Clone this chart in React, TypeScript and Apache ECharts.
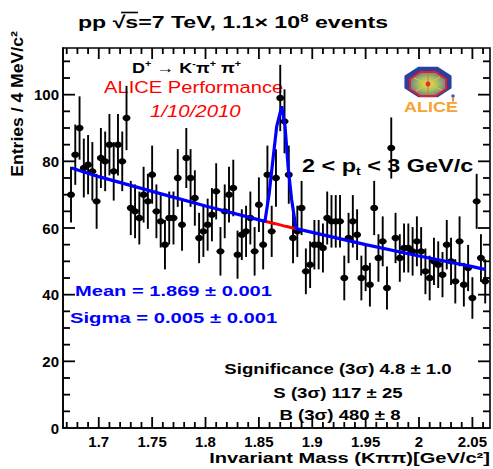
import React, { useEffect, useRef } from "react";
import * as echarts from "echarts";

const FONT = '"Liberation Sans", Arial, Helvetica, sans-serif';

// Histogram: entries per 4 MeV/c^2 bin, first bin centred at 1.674 GeV/c^2
const FIRST_BIN = 1.674;
const BIN_WIDTH = 0.004;
const counts = [
  70, 82, 90, 78, 79, 77, 68, 81, 80, 85,
  77, 85, 80, 93, 66, 65, 63, 70, 68, 76,
  65, 62, 55, 63, 63, 75, 61, 81, 75, 69,
  57, 59, 61, 64, 71, 53, 65, 70, 72, 52,
  58, 59, 63, 53, 67, 55, 76, 59, 75, 99,
  92, 76, 57, 59, 66, 47, 49, 55, 55, 54,
  63, 62, 62, 62, 45, 57, 62, 58, 45, 48,
  43, 66, 51, 56, 42, 84, 57, 51, 54, 54,
  53, 56, 53, 47, 45, 50, 49, 46, 55, 50,
  44, 56, 43, 48, 39, 68, 51, 44,
];
const masses = counts.map((_, i) => +(FIRST_BIN + BIN_WIDTH * i).toFixed(4));
const errors = counts.map((c) => Math.sqrt(c));

// Fit (signal + background)
const fitMass = [1.6745, 1.7, 1.75, 1.8, 1.8557, 1.8597, 1.8635, 1.8667, 1.8714, 1.8745, 1.8776, 1.8807, 1.8848, 1.9, 1.95, 2.0, 2.05, 2.0625];
const fitValue = [78.0, 75.4, 71.0, 66.6, 62.0, 70.5, 81.5, 90.5, 96.5, 90.5, 77.5, 68.5, 59.8, 58.7, 55.0, 51.6, 48.4, 47.5];
// Background under the peak (3 sigma window)
const bgMass = [1.8557, 1.8654, 1.8751, 1.8848];
const bgValue = [62.0, 61.3, 60.5, 59.8];

const xLabelValues = [1.7, 1.75, 1.8, 1.85, 1.9, 1.95, 2, 2.05];
const xTickHundredths = [167, 206]; // ticks every 0.01, major every 0.05
const yTickRange = [5, 110]; // ticks every 5, major every 20

const X_MIN = 1.6665;
const X_MAX = 2.0665;
const Y_MIN = 0;
const Y_MAX = 114;

function octagon(cx: number, cy: number, rx: number, ry: number) {
  const pts: number[][] = [];
  for (let i = 0; i < 8; i++) {
    const a = Math.PI / 8 + (i * Math.PI) / 4;
    pts.push([cx + rx * Math.cos(a), cy + ry * Math.sin(a)]);
  }
  return pts;
}

export default function App() {
  const ref = useRef<HTMLDivElement>(null);
  useEffect(() => {
    if (!ref.current) return;
    const chart = echarts.init(ref.current, null, { renderer: "svg" });

    // axis decoration items: [x value, y value, kind]
    // kind 0: x major tick + label, 1: x minor tick, 2: y major tick, 3: y minor tick
    const axisData: number[][] = [];
    for (let i = xTickHundredths[0]; i <= xTickHundredths[1]; i++) {
      const v = i / 100;
      const isLabel = xLabelValues.some((l) => Math.abs(l - v) < 1e-9);
      axisData.push([v, 50, isLabel ? 0 : 1]);
    }
    for (let v = yTickRange[0]; v <= yTickRange[1]; v += 5) axisData.push([1.8, v, v % 20 === 0 ? 2 : 3]);

    const pointData = counts.map((c, i) => [masses[i], c, errors[i]]);
    const bold = { fontFamily: FONT, fontWeight: "bold" as const };
    const tick = (x1: number, y1: number, x2: number, y2: number) => ({
      type: "line",
      shape: { x1, y1, x2, y2 },
      style: { stroke: "#000", lineWidth: 1.8 },
    });

    const option: any = {
      animation: false,
      grid: { left: 63, right: 3, top: 48, bottom: 41, show: true, borderColor: "#000", borderWidth: 1.6 },
      xAxis: {
        type: "value",
        min: X_MIN,
        max: X_MAX,
        axisLine: { show: true, lineStyle: { color: "#000", width: 1.6 } },
        splitLine: { show: false },
        axisTick: { show: false },
        axisLabel: { show: false },
      },
      yAxis: {
        type: "value",
        min: Y_MIN,
        max: Y_MAX,
        interval: 20,
        axisLine: { show: true, lineStyle: { color: "#000", width: 1.6 } },
        splitLine: { show: false },
        axisTick: { show: false },
        axisLabel: { showMaxLabel: false, color: "#000", fontSize: 15, margin: 4, ...bold },
      },
      series: [
        {
          type: "custom",
          name: "data",
          z: 4,
          encode: { x: 0, y: 1 },
          data: pointData,
          renderItem: (_p: any, api: any) => {
            const m = api.value(0);
            const c = api.value(1);
            const e = api.value(2);
            const p = api.coord([m, c]);
            const lo = api.coord([m, c - e]);
            const hi = api.coord([m, c + e]);
            return {
              type: "group",
              children: [
                { type: "line", shape: { x1: p[0], y1: lo[1], x2: p[0], y2: hi[1] }, style: { stroke: "#000", lineWidth: 1.9 } },
                { type: "ellipse", shape: { cx: p[0], cy: p[1], rx: 4, ry: 3.2 }, style: { fill: "#000" } },
              ],
            };
          },
        },
        {
          type: "line",
          name: "background",
          z: 5,
          data: bgMass.map((m, i) => [m, bgValue[i]]),
          showSymbol: false,
          symbol: "none",
          lineStyle: { color: "#ff0000", width: 3 },
        },
        {
          type: "line",
          name: "fit",
          z: 6,
          data: fitMass.map((m, i) => [m, fitValue[i]]),
          showSymbol: false,
          symbol: "none",
          lineStyle: { color: "#0000ff", width: 3.2 },
        },
        {
          type: "custom",
          name: "axisdecor",
          z: 4,
          encode: { x: 0, y: 1 },
          data: axisData,
          renderItem: (_p: any, api: any) => {
            const xv = api.value(0);
            const yv = api.value(1);
            const kind = api.value(2);
            if (kind === 0 || kind === 1) {
              const b = api.coord([xv, Y_MIN]);
              const t = api.coord([xv, Y_MAX]);
              const len = kind === 0 ? 11 : 6;
              const children: any[] = [tick(b[0], b[1], b[0], b[1] - len), tick(t[0], t[1], t[0], t[1] + len)];
              if (kind === 0) {
                children.push({
                  type: "text",
                  x: b[0],
                  y: b[1] + 6,
                  style: { text: String(+xv.toFixed(2)), fill: "#000", fontSize: 15, ...bold, align: "center", verticalAlign: "top" },
                });
              }
              return { type: "group", children };
            }
            const l = api.coord([X_MIN, yv]);
            const r = api.coord([X_MAX, yv]);
            const len = kind === 2 ? 12 : 7;
            return { type: "group", children: [tick(l[0], l[1], l[0] + len, l[1]), tick(r[0], r[1], r[0] - len, r[1])] };
          },
        },
      ],
      graphic: [
        {
          type: "text",
          x: 78,
          y: 22,
          scaleX: 1.36,
          style: {
            text: "pp √s=7 TeV, 1.1× 10{sup|8} events",
            fill: "#000",
            fontSize: 17,
            ...bold,
            verticalAlign: "middle",
            rich: { sup: { fontSize: 11, fontFamily: FONT, fontWeight: "bold", padding: [0, 0, 8, 0] } },
          },
        },
        { type: "line", shape: { x1: 121, y1: 12.5, x2: 138, y2: 12.5 }, style: { stroke: "#000", lineWidth: 1.6 } },
        {
          type: "text",
          x: 18,
          y: 104,
          rotation: Math.PI / 2,
          scaleX: 1.1,
          style: { text: "Entries / 4 MeV/c²", fill: "#000", fontSize: 16, ...bold, align: "center", verticalAlign: "middle" },
        },
        {
          type: "text",
          x: 490,
          y: 458,
          scaleX: 1.34,
          style: { text: "Invariant Mass (Kππ)[GeV/c²]", fill: "#000", fontSize: 15, ...bold, align: "right", verticalAlign: "middle" },
        },
        {
          type: "text",
          x: 132,
          y: 68,
          scaleX: 1.2,
          style: {
            text: "D{sup|+} → K{sup|-}π{sup|+} π{sup|+}",
            fill: "#000",
            fontSize: 15,
            ...bold,
            verticalAlign: "middle",
            rich: { sup: { fontSize: 9, fontFamily: FONT, fontWeight: "bold", padding: [0, 0, 8, 0] } },
          },
        },
        {
          type: "text",
          x: 104,
          y: 88,
          scaleX: 1.26,
          style: { text: "ALICE Performance", fill: "#ff0000", fontSize: 16, fontFamily: FONT, verticalAlign: "middle" },
        },
        {
          type: "text",
          x: 150,
          y: 111,
          scaleX: 1.2,
          style: { text: "1/10/2010", fill: "#ff0000", fontSize: 17, fontFamily: FONT, fontStyle: "italic", verticalAlign: "middle" },
        },
        {
          type: "text",
          x: 302,
          y: 166,
          scaleX: 1.3,
          style: {
            text: "2 < p{sub|t} < 3 GeV/c",
            fill: "#000",
            fontSize: 18,
            ...bold,
            verticalAlign: "middle",
            rich: { sub: { fontSize: 11, fontFamily: FONT, fontWeight: "bold", padding: [11, 0, 0, 0] } },
          },
        },
        {
          type: "text",
          x: 75,
          y: 291,
          scaleX: 1.34,
          style: { text: "Mean = 1.869 ± 0.001", fill: "#0000ff", fontSize: 15, ...bold, verticalAlign: "middle" },
        },
        {
          type: "text",
          x: 70,
          y: 318,
          scaleX: 1.35,
          style: { text: "Sigma = 0.005 ± 0.001", fill: "#0000ff", fontSize: 15, ...bold, verticalAlign: "middle" },
        },
        {
          type: "text",
          x: 338,
          y: 369,
          scaleX: 1.24,
          style: { text: "Significance (3σ) 4.8 ± 1.0", fill: "#000", fontSize: 15, ...bold, align: "center", verticalAlign: "middle" },
        },
        {
          type: "text",
          x: 338,
          y: 393,
          scaleX: 1.24,
          style: { text: "S (3σ) 117 ± 25", fill: "#000", fontSize: 15, ...bold, align: "center", verticalAlign: "middle" },
        },
        {
          type: "text",
          x: 340,
          y: 415,
          scaleX: 1.24,
          style: { text: "B (3σ) 480 ± 8", fill: "#000", fontSize: 15, ...bold, align: "center", verticalAlign: "middle" },
        },
        // ALICE logo
        {
          type: "group",
          children: [
            { type: "polygon", shape: { points: octagon(428, 82, 25.5, 16.5) }, style: { fill: "#2b3f9c" } },
            {
              type: "polygon",
              shape: { points: octagon(428, 84, 19.5, 13) },
              style: {
                fill: {
                  type: "radial",
                  x: 0.5,
                  y: 0.5,
                  r: 0.6,
                  colorStops: [
                    { offset: 0, color: "#f4e04a" },
                    { offset: 0.45, color: "#a8c060" },
                    { offset: 1, color: "#5d6a9a" },
                  ],
                },
                stroke: "#e0202a",
                lineWidth: 2,
              },
            },
            { type: "line", shape: { x1: 414, y1: 78, x2: 442, y2: 90 }, style: { stroke: "#e8c040", lineWidth: 1 } },
            { type: "line", shape: { x1: 416, y1: 91, x2: 440, y2: 77 }, style: { stroke: "#e8c040", lineWidth: 1 } },
            { type: "line", shape: { x1: 428, y1: 73, x2: 428, y2: 95 }, style: { stroke: "#e07030", lineWidth: 1 } },
            { type: "circle", shape: { cx: 428, cy: 84, r: 2.5 }, style: { fill: "#e03030" } },
            { type: "circle", shape: { cx: 453, cy: 96, r: 1.8 }, style: { fill: "#3060c0" } },
            { type: "rect", shape: { x: 452, y: 97.5, width: 2, height: 4 }, style: { fill: "#f09030" } },
            {
              type: "text",
              x: 431,
              y: 107,
              scaleX: 1.2,
              style: { text: "ALICE", fill: "#f7a232", fontSize: 15, ...bold, align: "center", verticalAlign: "middle" },
            },
          ],
        },
      ],
    };
    chart.setOption(option);
    return () => chart.dispose();
  }, []);
  return <div ref={ref} style={{ width: 493, height: 469, position: "absolute", left: 0, top: 0 }} />;
}
